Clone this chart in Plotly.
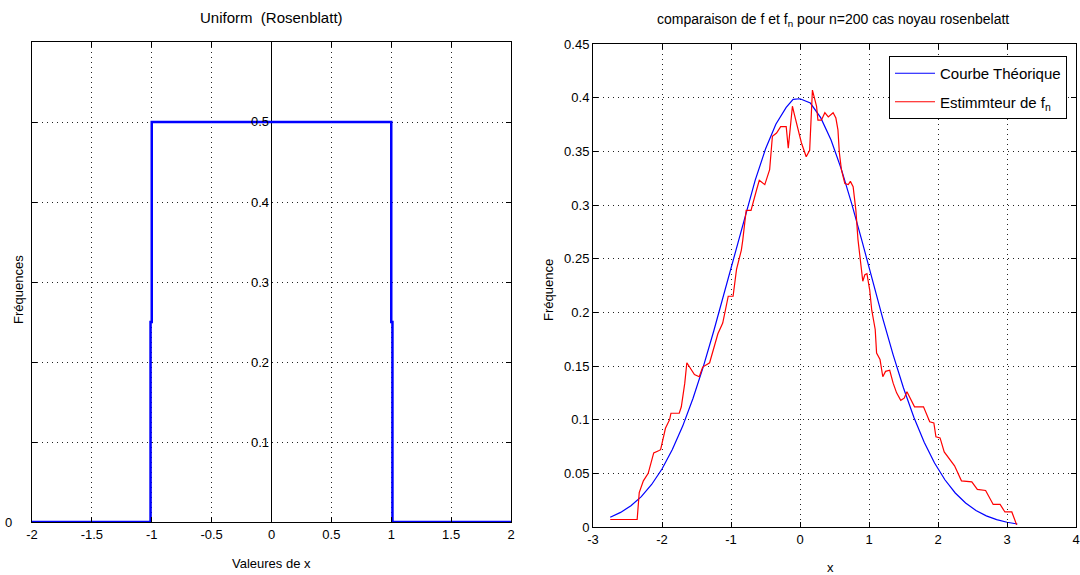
import plotly.graph_objects as go

# ---------------- data ----------------
# Left panel: uniform (Rosenblatt) kernel, step profile
unif_x = [-2.0, -1.01, -1.0, 1.0, 1.01, 2.0]
unif_y = [0.0, 0.25, 0.5, 0.25, 0.0, 0.0]

# Right panel: theoretical curve
theo_x = [-2.75, -2.6, -2.45, -2.3, -2.15, -2.0, -1.85, -1.7, -1.55, -1.4, -1.25, -1.1,
          -0.95, -0.8, -0.65, -0.5, -0.35, -0.2, -0.1, 0.0, 0.15, 0.3, 0.45, 0.6, 0.75,
          0.9, 1.05, 1.2, 1.35, 1.5, 1.65, 1.8, 1.95, 2.1, 2.25, 2.4, 2.55, 2.7, 2.85,
          3.0, 3.15]
theo_y = [0.0091, 0.0136, 0.0198, 0.0283, 0.0396, 0.0540, 0.0721, 0.0940, 0.1200, 0.1497,
          0.1826, 0.2179, 0.2541, 0.2897, 0.3230, 0.3521, 0.3752, 0.3910, 0.3985, 0.3990,
          0.3950, 0.3814, 0.3605, 0.3332, 0.3011, 0.2661, 0.2299, 0.1942, 0.1604, 0.1295,
          0.1023, 0.0790, 0.0596, 0.0440, 0.0317, 0.0224, 0.0154, 0.0104, 0.0069, 0.0044,
          0.0028]

# Right panel: kernel estimator f_n
est_x = [-2.75, -2.36, -2.33, -2.27, -2.20, -2.12, -2.05, -2.02, -1.95, -1.89, -1.87, -1.75,
         -1.72, -1.67, -1.64, -1.53, -1.46, -1.41, -1.31, -1.26, -1.19, -1.12, -1.04, -0.97,
         -0.92, -0.85, -0.83, -0.78, -0.71, -0.63, -0.59, -0.51, -0.44, -0.40, -0.34, -0.28,
         -0.20, -0.17, -0.11, -0.08, 0.02, 0.09, 0.14, 0.18, 0.24, 0.26, 0.31, 0.36, 0.41,
         0.48, 0.52, 0.55, 0.57, 0.60, 0.65, 0.70, 0.73, 0.77, 0.81, 0.84, 0.87, 0.89, 0.91,
         0.94, 0.97, 1.01, 1.04, 1.09, 1.11, 1.16, 1.20, 1.24, 1.30, 1.35, 1.40, 1.46, 1.51,
         1.55, 1.59, 1.66, 1.79, 1.84, 1.88, 1.94, 1.97, 2.03, 2.09, 2.24, 2.34, 2.49, 2.57,
         2.69, 2.80, 2.90, 2.97, 3.07, 3.14]
est_y = [0.007, 0.007, 0.032, 0.043, 0.050, 0.069, 0.071, 0.072, 0.092, 0.100, 0.106, 0.106,
         0.112, 0.134, 0.153, 0.142, 0.140, 0.149, 0.153, 0.165, 0.180, 0.190, 0.215, 0.215,
         0.240, 0.258, 0.267, 0.295, 0.295, 0.314, 0.323, 0.319, 0.333, 0.364, 0.367, 0.373,
         0.373, 0.353, 0.392, 0.384, 0.358, 0.345, 0.351, 0.407, 0.392, 0.379, 0.379, 0.386,
         0.382, 0.386, 0.381, 0.370, 0.349, 0.333, 0.320, 0.319, 0.322, 0.317, 0.295, 0.268,
         0.250, 0.240, 0.229, 0.235, 0.236, 0.221, 0.202, 0.184, 0.162, 0.156, 0.140, 0.145,
         0.146, 0.134, 0.125, 0.118, 0.120, 0.126, 0.121, 0.112, 0.112, 0.104, 0.098, 0.097,
         0.084, 0.083, 0.070, 0.057, 0.043, 0.042, 0.035, 0.034, 0.021, 0.021, 0.014, 0.014,
         0.002]

left_xticks = [-2, -1.5, -1, -0.5, 0, 0.5, 1, 1.5, 2]
left_xlabels = ["-2", "-1.5", "-1", "-0.5", "0", "0.5", "1", "1.5", "2"]
left_yticks = [0.1, 0.2, 0.3, 0.4, 0.5]
left_ylabels = ["0.1", "0.2", "0.3", "0.4", "0.5"]
right_xticks = [-3, -2, -1, 0, 1, 2, 3, 4]
right_xlabels = ["-3", "-2", "-1", "0", "1", "2", "3", "4"]
right_yticks = [0, 0.05, 0.1, 0.15, 0.2, 0.25, 0.3, 0.35, 0.4, 0.45]
right_ylabels = ["0", "0.05", "0.1", "0.15", "0.2", "0.25", "0.3", "0.35", "0.4", "0.45"]

# ---------------- figure ----------------
FONT = "Liberation Sans, Arial, sans-serif"
W, H = 1080, 575

fig = go.Figure()
fig.add_trace(go.Scatter(x=unif_x, y=unif_y, mode="lines", line_shape="hv",
                         line=dict(color="#0000FF", width=2.5),
                         xaxis="x", yaxis="y", showlegend=False, hoverinfo="skip"))
fig.add_trace(go.Scatter(x=theo_x, y=theo_y, mode="lines", name="Courbe Théorique",
                         legendgroup="a",
                         line=dict(color="#0000FF", width=1.2),
                         xaxis="x2", yaxis="y2"))
fig.add_trace(go.Scatter(x=est_x, y=est_y, mode="lines", name="Estimmteur de f<sub>n</sub>",
                         legendgroup="b",
                         line=dict(color="#FF0000", width=1.2),
                         xaxis="x2", yaxis="y2"))

grid = dict(showgrid=True, gridcolor="#222222", griddash="1px,4px", gridwidth=1)
frame = dict(showline=True, linecolor="black", linewidth=1, mirror="ticks",
             ticks="inside", ticklen=5, tickcolor="black",
             tickfont=dict(family=FONT, size=13, color="black"))

fig.update_layout(
    width=W, height=H,
    margin=dict(l=0, r=0, t=0, b=0, autoexpand=False),
    paper_bgcolor="white", plot_bgcolor="white",
    font=dict(family=FONT, size=13, color="black"),
    xaxis=dict(domain=[32 / W, 511 / W], range=[-2, 2], anchor="y",
               tickvals=left_xticks, ticktext=left_xlabels,
               zeroline=True, zerolinecolor="black", zerolinewidth=1,
               **grid, **frame),
    yaxis=dict(domain=[(H - 522) / H, (H - 42) / H], range=[0, 0.6], anchor="x",
               tickvals=[0] + left_yticks, showticklabels=False, zeroline=False,
               **grid, **frame),
    xaxis2=dict(domain=[593 / W, 1076 / W], range=[-3, 4], anchor="y2",
                tickvals=right_xticks, ticktext=right_xlabels, zeroline=False,
                **grid, **frame),
    yaxis2=dict(domain=[(H - 527) / H, (H - 44) / H], range=[0, 0.45], anchor="x2",
                tickvals=right_yticks, ticktext=right_ylabels, zeroline=False,
                **grid, **frame),
    legend=dict(x=1067 / W, xanchor="right", y=(H - 56) / H, yanchor="top",
                bgcolor="white", bordercolor="black", borderwidth=1,
                font=dict(family=FONT, size=15, color="black"),
                itemwidth=40, tracegroupgap=6),
    showlegend=True,
)

# y tick labels of the left panel sit next to the axis drawn at x = 0
for v, t in zip(left_yticks, left_ylabels):
    fig.add_annotation(text=t, x=0, y=v, xref="x", yref="y", showarrow=False,
                       xanchor="right", yanchor="middle", xshift=-1,
                       font=dict(family=FONT, size=13, color="black"))
# the "0" label sits at the left of the frame
fig.add_annotation(text="0", x=-2, y=0, xref="x", yref="y", showarrow=False,
                   xanchor="right", yanchor="middle", xshift=-18,
                   font=dict(family=FONT, size=13, color="black"))

ann = dict(xref="paper", yref="paper", showarrow=False,
           font=dict(family=FONT, size=13, color="black"))
fig.add_annotation(text="Uniform  (Rosenblatt)", x=271 / W, y=(H - 18) / H,
                   xanchor="center", yanchor="middle",
                   **{**ann, "font": dict(family=FONT, size=15, color="black")})
fig.add_annotation(text="comparaison de f et f<sub>n</sub> pour n=200 cas noyau rosenbelatt",
                   x=833 / W, y=(H - 20) / H, xanchor="center", yanchor="middle",
                   **{**ann, "font": dict(family=FONT, size=14, color="black")})
fig.add_annotation(text="Valeures de x", x=271 / W, y=(H - 563) / H,
                   xanchor="center", yanchor="middle", **ann)
fig.add_annotation(text="x", x=830 / W, y=(H - 567) / H,
                   xanchor="center", yanchor="middle", **ann)
fig.add_annotation(text="Fréquences", x=18 / W, y=(H - 290) / H, textangle=-90,
                   xanchor="center", yanchor="middle", **ann)
fig.add_annotation(text="Fréquence", x=548 / W, y=(H - 290) / H, textangle=-90,
                   xanchor="center", yanchor="middle", **ann)

fig.write_html("out.html")
